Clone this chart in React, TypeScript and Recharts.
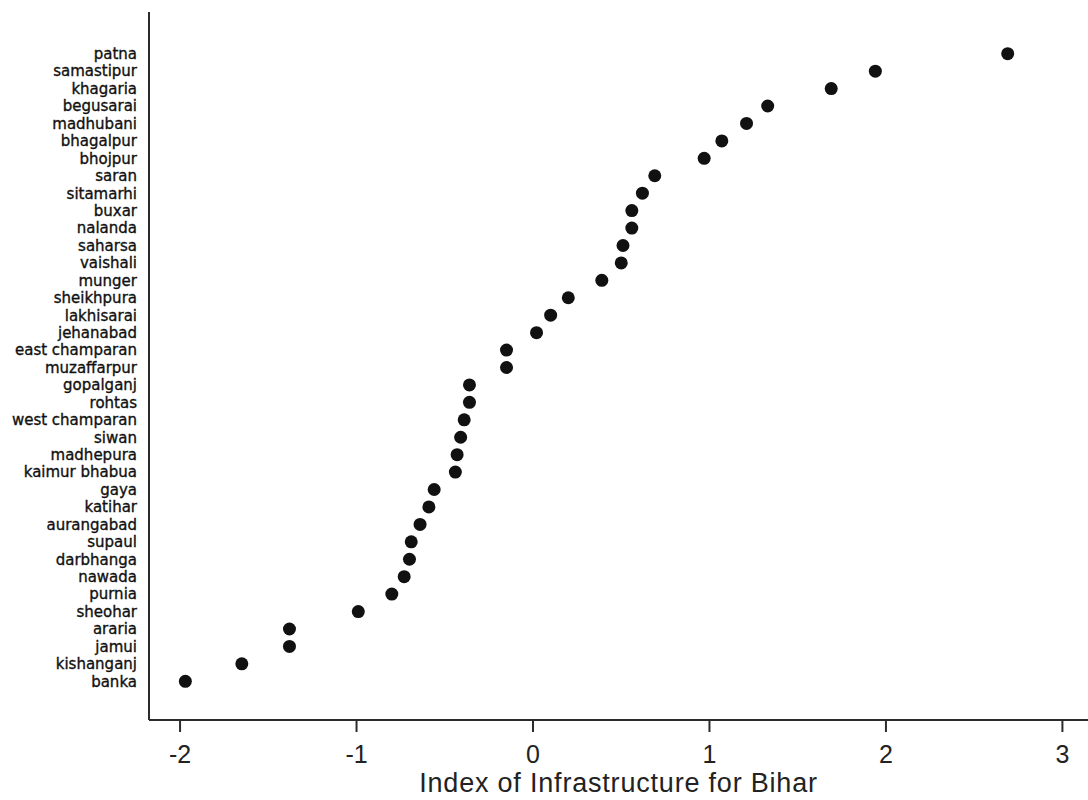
import React from 'react';
import { ScatterChart, Scatter, XAxis, YAxis } from 'recharts';

// districts from top to bottom, as listed on the y axis
const districts = [
  'patna', 'samastipur', 'khagaria', 'begusarai', 'madhubani', 'bhagalpur',
  'bhojpur', 'saran', 'sitamarhi', 'buxar', 'nalanda', 'saharsa', 'vaishali',
  'munger', 'sheikhpura', 'lakhisarai', 'jehanabad', 'east champaran',
  'muzaffarpur', 'gopalganj', 'rohtas', 'west champaran', 'siwan', 'madhepura',
  'kaimur bhabua', 'gaya', 'katihar', 'aurangabad', 'supaul', 'darbhanga',
  'nawada', 'purnia', 'sheohar', 'araria', 'jamui', 'kishanganj', 'banka',
];

// index of infrastructure, same order
const indexValues = [
  2.69, 1.94, 1.69, 1.33, 1.21, 1.07,
  0.97, 0.69, 0.62, 0.56, 0.56, 0.51, 0.5,
  0.39, 0.2, 0.1, 0.02, -0.15,
  -0.15, -0.36, -0.36, -0.39, -0.41, -0.43,
  -0.44, -0.56, -0.59, -0.64, -0.69, -0.7,
  -0.73, -0.8, -0.99, -1.38, -1.38, -1.65, -1.97,
];

const xTicks = [-2, -1, 0, 1, 2, 3];

const data = districts.map((name, i) => ({ name, value: indexValues[i] }));

const axisColor = '#2b2b2b';

const Dot = (props: any) => {
  if (props.cx == null || props.cy == null) return null;
  return <circle cx={props.cx} cy={props.cy} r={6.5} fill="#111" />;
};

export default function App() {
  return (
    <div style={{ position: 'absolute', left: 0, top: 0, width: 1088, height: 800, background: '#fff' }}>
      <ScatterChart width={1088} height={800} margin={{ top: 12, right: 0, left: 0, bottom: 0 }}>
        <XAxis
          type="number"
          dataKey="value"
          domain={[-2.176, 3.145]}
          ticks={xTicks}
          allowDataOverflow
          height={80}
          stroke={axisColor}
          strokeWidth={2}
          tickSize={12}
          tickMargin={13}
          tick={{ fontSize: 25, fill: '#222', fontFamily: 'Liberation Sans, Arial, sans-serif' }}
          label={{
            value: 'Index of Infrastructure for Bihar',
            position: 'insideBottom',
            offset: 8,
            style: { fontSize: 27, fill: '#222', fontFamily: 'Liberation Sans, Arial, sans-serif', letterSpacing: 0.8 },
          }}
        />
        <YAxis
          type="category"
          dataKey="name"
          reversed
          width={149}
          padding={{ top: 33, bottom: 30 }}
          interval={0}
          stroke={axisColor}
          strokeWidth={2}
          tickLine={false}
          tickSize={0}
          tickMargin={12}
          tick={{ fontSize: 15, fill: '#111', stroke: '#111', strokeWidth: 0.35, fontFamily: 'DejaVu Sans, sans-serif' }}
        />
        <Scatter data={data} shape={<Dot />} isAnimationActive={false} />
      </ScatterChart>
    </div>
  );
}
